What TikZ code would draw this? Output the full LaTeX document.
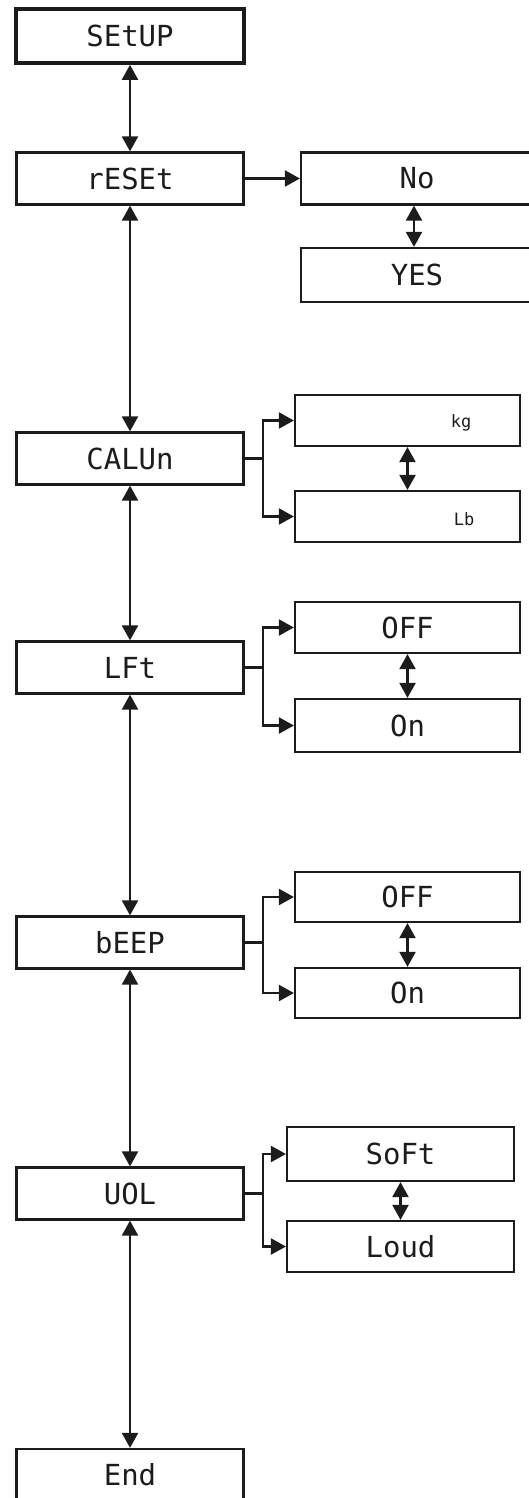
\documentclass[tikz,border=0pt]{standalone}
\usepackage{fontspec}
\newfontfamily\segfont{DejaVu Sans Mono}
\usetikzlibrary{arrows.meta}
\definecolor{ink}{HTML}{1C1C1C}
\tikzset{
  box/.style={draw=ink, line width=2.2pt, inner sep=0pt, minimum height=52pt, minimum width=227pt,
    font=\segfont\fontsize{29}{29}\selectfont, text=ink},
  topbox/.style={box, line width=3.6pt, minimum width=228pt, minimum height=54pt},
  unit/.style={inner sep=0pt, font=\segfont\fontsize{17}{17}\selectfont, text=ink},
  conn/.style={draw=ink, line width=2.2pt},
  tip/.style={-{Triangle[length=15pt 0 0,width=16pt 0 0]}},
  dtip/.style={{Triangle[length=15pt 0 0,width=16pt 0 0]}-{Triangle[length=15pt 0 0,width=16pt 0 0]}},
}
\begin{document}
\begin{tikzpicture}[x=1pt,y=-1pt]
\useasboundingbox (0,0) rectangle (529,1498);
% main column
\node[topbox] (setup) at (130,36) {SEtUP};
\node[box] (reset) at (130,178.5) {rESEt};
\node[box] (calun) at (130,458.5) {CALUn};
\node[box] (lft) at (130,667.5) {LFt};
\node[box] (beep) at (130,942.5) {bEEP};
\node[box] (uol) at (130,1193.5) {UOL};
\node[box] (end) at (130,1475) {End};
% reset options
\node[box, minimum width=232pt] (no) at (417,178.5) {No};
\node[box, minimum width=232pt, minimum height=54pt] (yes) at (417,275) {YES};
% units
\node[box, minimum width=225pt, minimum height=51pt] (kg) at (407.5,420.5) {};
\node[unit] (kgt) at (461,423) {kg};
\node[box, minimum width=225pt, minimum height=51pt] (lb) at (407.5,516.5) {};
\node[unit] (lbt) at (464,519) {Lb};
% LFt options
\node[box, minimum width=225pt, minimum height=51pt] (off1) at (407.5,627.5) {OFF};
\node[box, minimum width=225pt, minimum height=53pt] (on1) at (407.5,725.5) {On};
% bEEP options
\node[box, minimum width=225pt, minimum height=50pt] (off2) at (407.5,897) {OFF};
\node[box, minimum width=225pt, minimum height=50pt] (on2) at (407.5,993) {On};
% volume options
\node[box, minimum width=227pt, minimum height=54pt] (soft) at (400.5,1154) {SoFt};
\node[box, minimum width=227pt, minimum height=51pt] (loud) at (400.5,1246.5) {Loud};
% main connectors
\draw[conn,dtip] (setup.south) -- (reset.north);
\draw[conn,dtip] (reset.south) -- (calun.north);
\draw[conn,dtip] (calun.south) -- (lft.north);
\draw[conn,dtip] (lft.south) -- (beep.north);
\draw[conn,dtip] (beep.south) -- (uol.north);
\draw[conn,dtip] (uol.south) -- (end.north);
% reset branch
\draw[conn,tip] (reset.east) -- (no.west |- reset.east);
\draw[conn,dtip] ([xshift=-3pt]no.south) -- ([xshift=-3pt]yes.north);
% branches
\draw[conn,tip] (calun.east) -- ++(18.5,0) |- (kg.west);
\draw[conn,tip] (calun.east) -- ++(18.5,0) |- (lb.west);
\draw[conn,dtip] (kg.south) -- (lb.north);
\draw[conn,tip] (lft.east) -- ++(18.5,0) |- (off1.west);
\draw[conn,tip] (lft.east) -- ++(18.5,0) |- (on1.west);
\draw[conn,dtip] (off1.south) -- (on1.north);
\draw[conn,tip] (beep.east) -- ++(18.5,0) |- (off2.west);
\draw[conn,tip] (beep.east) -- ++(18.5,0) |- (on2.west);
\draw[conn,dtip] (off2.south) -- (on2.north);
\draw[conn,tip] (uol.east) -- ++(18.5,0) |- (soft.west);
\draw[conn,tip] (uol.east) -- ++(18.5,0) |- (loud.west);
\draw[conn,dtip] (soft.south) -- (loud.north);
\end{tikzpicture}
\end{document}
